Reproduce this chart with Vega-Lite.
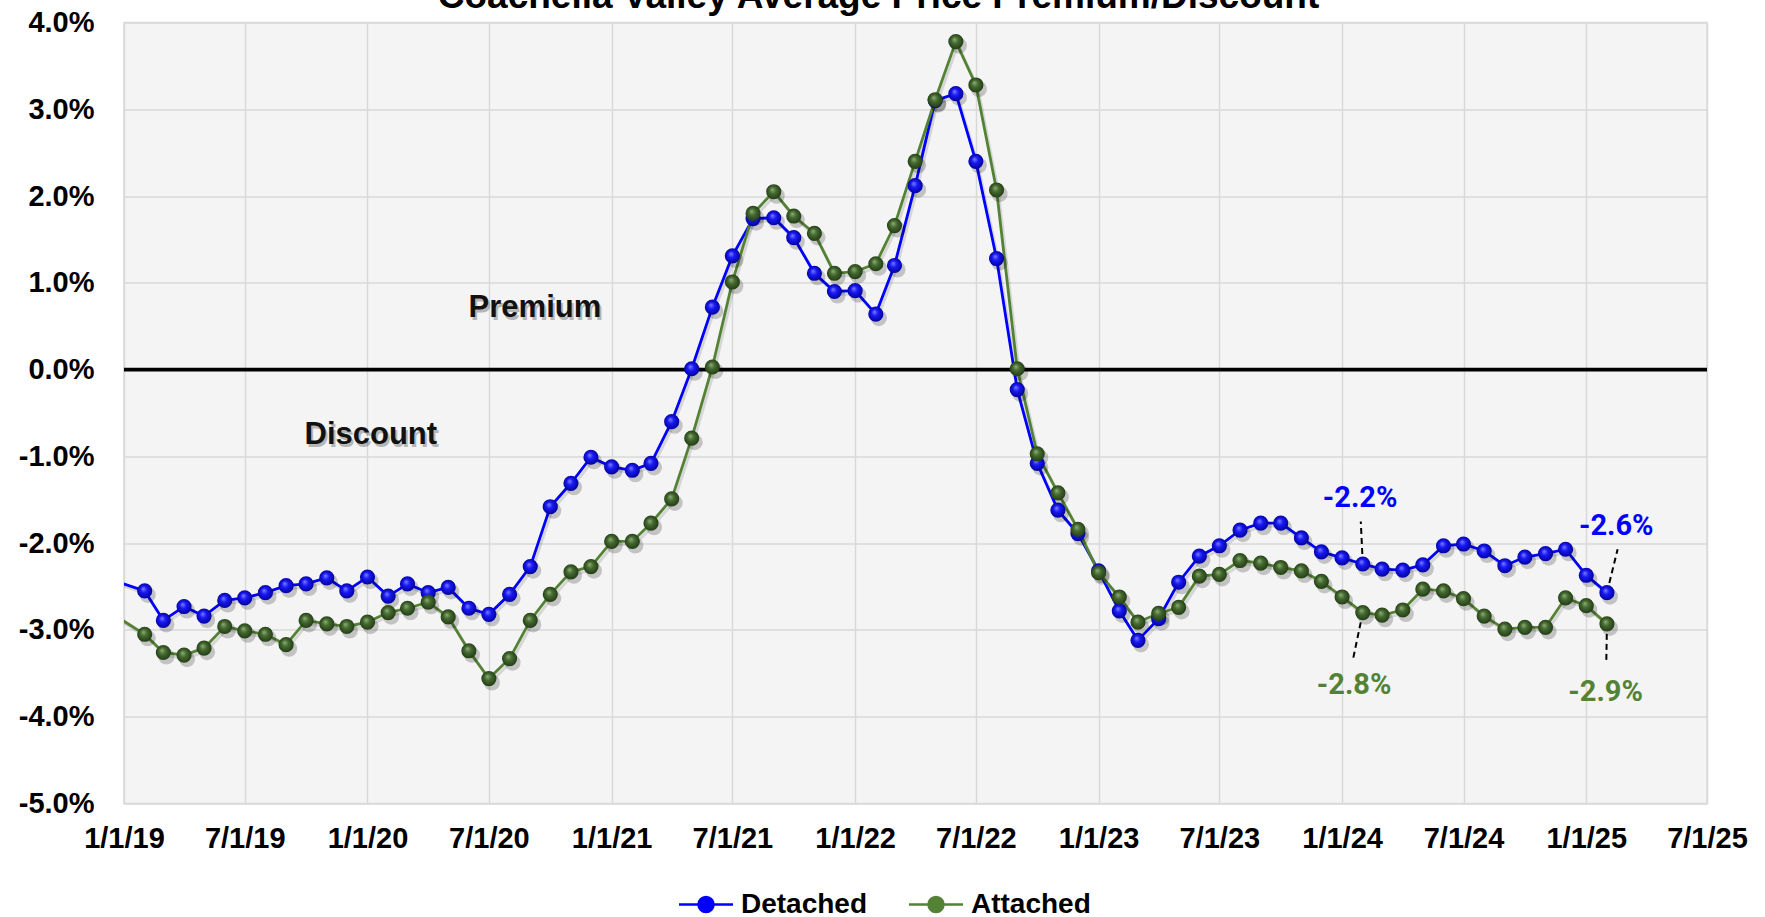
{
  "$schema": "https://vega.github.io/schema/vega-lite/v6.json",
  "width": 1583,
  "height": 781,
  "autosize": {"type": "none"},
  "padding": {"left": 124, "top": 22.5, "right": 58, "bottom": 113.5},
  "background": "#ffffff",
  "title": {
    "text": "Coachella Valley Average Price Premium/Discount",
    "anchor": "middle",
    "frame": "group",
    "dx": -37,
    "offset": -36,
    "baseline": "alphabetic",
    "font": "Liberation Sans",
    "fontSize": 37,
    "fontWeight": "bold",
    "color": "#000000"
  },
  "config": {
    "view": {"fill": "#f4f4f4", "stroke": "#d9d9d9", "strokeWidth": 1.5},
    "axis": {
      "gridColor": "#d9d9d9",
      "gridWidth": 1.5,
      "domain": false,
      "ticks": false,
      "tickSize": 0,
      "labelFont": "Liberation Sans",
      "labelFontWeight": "bold",
      "labelFontSize": 29,
      "labelColor": "#000000",
      "labelFlush": false,
      "labelOverlap": false,
      "title": null
    },
    "legend": {
      "orient": "none",
      "legendX": 567,
      "legendY": 867,
      "direction": "horizontal",
      "title": null,
      "symbolType": "M-2,0L2,0M0.556,0A0.556,0.556,0,1,1,-0.556,0A0.556,0.556,0,1,1,0.556,0Z",
      "symbolSize": 729,
      "symbolStrokeWidth": 2.5,
      "labelFont": "Liberation Sans",
      "labelFontWeight": "bold",
      "labelFontSize": 28,
      "labelColor": "#000000",
      "labelOffset": 20,
      "columnPadding": 36
    }
  },
  "datasets": {
    "series": [
      {"d": "2018-12-01", "s": "Detached", "v": -2.39},
      {"d": "2019-02-01", "s": "Detached", "v": -2.55},
      {"d": "2019-03-01", "s": "Detached", "v": -2.89},
      {"d": "2019-04-01", "s": "Detached", "v": -2.73},
      {"d": "2019-05-01", "s": "Detached", "v": -2.84},
      {"d": "2019-06-01", "s": "Detached", "v": -2.66},
      {"d": "2019-07-01", "s": "Detached", "v": -2.63},
      {"d": "2019-08-01", "s": "Detached", "v": -2.57},
      {"d": "2019-09-01", "s": "Detached", "v": -2.49},
      {"d": "2019-10-01", "s": "Detached", "v": -2.47},
      {"d": "2019-11-01", "s": "Detached", "v": -2.40},
      {"d": "2019-12-01", "s": "Detached", "v": -2.55},
      {"d": "2020-01-01", "s": "Detached", "v": -2.39},
      {"d": "2020-02-01", "s": "Detached", "v": -2.61},
      {"d": "2020-03-01", "s": "Detached", "v": -2.47},
      {"d": "2020-04-01", "s": "Detached", "v": -2.57},
      {"d": "2020-05-01", "s": "Detached", "v": -2.51},
      {"d": "2020-06-01", "s": "Detached", "v": -2.75},
      {"d": "2020-07-01", "s": "Detached", "v": -2.82},
      {"d": "2020-08-01", "s": "Detached", "v": -2.59},
      {"d": "2020-09-01", "s": "Detached", "v": -2.27},
      {"d": "2020-10-01", "s": "Detached", "v": -1.58},
      {"d": "2020-11-01", "s": "Detached", "v": -1.31},
      {"d": "2020-12-01", "s": "Detached", "v": -1.01},
      {"d": "2021-01-01", "s": "Detached", "v": -1.12},
      {"d": "2021-02-01", "s": "Detached", "v": -1.16},
      {"d": "2021-03-01", "s": "Detached", "v": -1.08},
      {"d": "2021-04-01", "s": "Detached", "v": -0.60},
      {"d": "2021-05-01", "s": "Detached", "v": 0.01},
      {"d": "2021-06-01", "s": "Detached", "v": 0.72},
      {"d": "2021-07-01", "s": "Detached", "v": 1.31},
      {"d": "2021-08-01", "s": "Detached", "v": 1.74},
      {"d": "2021-09-01", "s": "Detached", "v": 1.75},
      {"d": "2021-10-01", "s": "Detached", "v": 1.52},
      {"d": "2021-11-01", "s": "Detached", "v": 1.11},
      {"d": "2021-12-01", "s": "Detached", "v": 0.90},
      {"d": "2022-01-01", "s": "Detached", "v": 0.91},
      {"d": "2022-02-01", "s": "Detached", "v": 0.64},
      {"d": "2022-03-01", "s": "Detached", "v": 1.20},
      {"d": "2022-04-01", "s": "Detached", "v": 2.12},
      {"d": "2022-05-01", "s": "Detached", "v": 3.10},
      {"d": "2022-06-01", "s": "Detached", "v": 3.18},
      {"d": "2022-07-01", "s": "Detached", "v": 2.40},
      {"d": "2022-08-01", "s": "Detached", "v": 1.28},
      {"d": "2022-09-01", "s": "Detached", "v": -0.23},
      {"d": "2022-10-01", "s": "Detached", "v": -1.08},
      {"d": "2022-11-01", "s": "Detached", "v": -1.62},
      {"d": "2022-12-01", "s": "Detached", "v": -1.89},
      {"d": "2023-01-01", "s": "Detached", "v": -2.32},
      {"d": "2023-02-01", "s": "Detached", "v": -2.78},
      {"d": "2023-03-01", "s": "Detached", "v": -3.12},
      {"d": "2023-04-01", "s": "Detached", "v": -2.87},
      {"d": "2023-05-01", "s": "Detached", "v": -2.45},
      {"d": "2023-06-01", "s": "Detached", "v": -2.15},
      {"d": "2023-07-01", "s": "Detached", "v": -2.03},
      {"d": "2023-08-01", "s": "Detached", "v": -1.85},
      {"d": "2023-09-01", "s": "Detached", "v": -1.77},
      {"d": "2023-10-01", "s": "Detached", "v": -1.77},
      {"d": "2023-11-01", "s": "Detached", "v": -1.94},
      {"d": "2023-12-01", "s": "Detached", "v": -2.10},
      {"d": "2024-01-01", "s": "Detached", "v": -2.17},
      {"d": "2024-02-01", "s": "Detached", "v": -2.24},
      {"d": "2024-03-01", "s": "Detached", "v": -2.30},
      {"d": "2024-04-01", "s": "Detached", "v": -2.31},
      {"d": "2024-05-01", "s": "Detached", "v": -2.25},
      {"d": "2024-06-01", "s": "Detached", "v": -2.03},
      {"d": "2024-07-01", "s": "Detached", "v": -2.01},
      {"d": "2024-08-01", "s": "Detached", "v": -2.09},
      {"d": "2024-09-01", "s": "Detached", "v": -2.26},
      {"d": "2024-10-01", "s": "Detached", "v": -2.16},
      {"d": "2024-11-01", "s": "Detached", "v": -2.12},
      {"d": "2024-12-01", "s": "Detached", "v": -2.07},
      {"d": "2025-01-01", "s": "Detached", "v": -2.37},
      {"d": "2025-02-01", "s": "Detached", "v": -2.57},
      {"d": "2018-12-01", "s": "Attached", "v": -2.75},
      {"d": "2019-02-01", "s": "Attached", "v": -3.05},
      {"d": "2019-03-01", "s": "Attached", "v": -3.26},
      {"d": "2019-04-01", "s": "Attached", "v": -3.29},
      {"d": "2019-05-01", "s": "Attached", "v": -3.21},
      {"d": "2019-06-01", "s": "Attached", "v": -2.96},
      {"d": "2019-07-01", "s": "Attached", "v": -3.01},
      {"d": "2019-08-01", "s": "Attached", "v": -3.05},
      {"d": "2019-09-01", "s": "Attached", "v": -3.17},
      {"d": "2019-10-01", "s": "Attached", "v": -2.89},
      {"d": "2019-11-01", "s": "Attached", "v": -2.93},
      {"d": "2019-12-01", "s": "Attached", "v": -2.96},
      {"d": "2020-01-01", "s": "Attached", "v": -2.91},
      {"d": "2020-02-01", "s": "Attached", "v": -2.80},
      {"d": "2020-03-01", "s": "Attached", "v": -2.75},
      {"d": "2020-04-01", "s": "Attached", "v": -2.68},
      {"d": "2020-05-01", "s": "Attached", "v": -2.85},
      {"d": "2020-06-01", "s": "Attached", "v": -3.24},
      {"d": "2020-07-01", "s": "Attached", "v": -3.56},
      {"d": "2020-08-01", "s": "Attached", "v": -3.33},
      {"d": "2020-09-01", "s": "Attached", "v": -2.89},
      {"d": "2020-10-01", "s": "Attached", "v": -2.59},
      {"d": "2020-11-01", "s": "Attached", "v": -2.33},
      {"d": "2020-12-01", "s": "Attached", "v": -2.27},
      {"d": "2021-01-01", "s": "Attached", "v": -1.98},
      {"d": "2021-02-01", "s": "Attached", "v": -1.98},
      {"d": "2021-03-01", "s": "Attached", "v": -1.77},
      {"d": "2021-04-01", "s": "Attached", "v": -1.49},
      {"d": "2021-05-01", "s": "Attached", "v": -0.79},
      {"d": "2021-06-01", "s": "Attached", "v": 0.03},
      {"d": "2021-07-01", "s": "Attached", "v": 1.01},
      {"d": "2021-08-01", "s": "Attached", "v": 1.80},
      {"d": "2021-09-01", "s": "Attached", "v": 2.05},
      {"d": "2021-10-01", "s": "Attached", "v": 1.77},
      {"d": "2021-11-01", "s": "Attached", "v": 1.57},
      {"d": "2021-12-01", "s": "Attached", "v": 1.11},
      {"d": "2022-01-01", "s": "Attached", "v": 1.13},
      {"d": "2022-02-01", "s": "Attached", "v": 1.22},
      {"d": "2022-03-01", "s": "Attached", "v": 1.66},
      {"d": "2022-04-01", "s": "Attached", "v": 2.40},
      {"d": "2022-05-01", "s": "Attached", "v": 3.11},
      {"d": "2022-06-01", "s": "Attached", "v": 3.78},
      {"d": "2022-07-01", "s": "Attached", "v": 3.28},
      {"d": "2022-08-01", "s": "Attached", "v": 2.07},
      {"d": "2022-09-01", "s": "Attached", "v": 0.01},
      {"d": "2022-10-01", "s": "Attached", "v": -0.97},
      {"d": "2022-11-01", "s": "Attached", "v": -1.42},
      {"d": "2022-12-01", "s": "Attached", "v": -1.84},
      {"d": "2023-01-01", "s": "Attached", "v": -2.34},
      {"d": "2023-02-01", "s": "Attached", "v": -2.62},
      {"d": "2023-03-01", "s": "Attached", "v": -2.91},
      {"d": "2023-04-01", "s": "Attached", "v": -2.81},
      {"d": "2023-05-01", "s": "Attached", "v": -2.74},
      {"d": "2023-06-01", "s": "Attached", "v": -2.38},
      {"d": "2023-07-01", "s": "Attached", "v": -2.36},
      {"d": "2023-08-01", "s": "Attached", "v": -2.20},
      {"d": "2023-09-01", "s": "Attached", "v": -2.23},
      {"d": "2023-10-01", "s": "Attached", "v": -2.28},
      {"d": "2023-11-01", "s": "Attached", "v": -2.32},
      {"d": "2023-12-01", "s": "Attached", "v": -2.44},
      {"d": "2024-01-01", "s": "Attached", "v": -2.62},
      {"d": "2024-02-01", "s": "Attached", "v": -2.80},
      {"d": "2024-03-01", "s": "Attached", "v": -2.83},
      {"d": "2024-04-01", "s": "Attached", "v": -2.77},
      {"d": "2024-05-01", "s": "Attached", "v": -2.53},
      {"d": "2024-06-01", "s": "Attached", "v": -2.55},
      {"d": "2024-07-01", "s": "Attached", "v": -2.64},
      {"d": "2024-08-01", "s": "Attached", "v": -2.84},
      {"d": "2024-09-01", "s": "Attached", "v": -2.99},
      {"d": "2024-10-01", "s": "Attached", "v": -2.97},
      {"d": "2024-11-01", "s": "Attached", "v": -2.97},
      {"d": "2024-12-01", "s": "Attached", "v": -2.63},
      {"d": "2025-01-01", "s": "Attached", "v": -2.72},
      {"d": "2025-02-01", "s": "Attached", "v": -2.93}
    ],
    "labels": [
      {"d": "2024-01-28", "v": -1.48, "t": "-2.2%", "s": "Detached"},
      {"d": "2025-02-15", "v": -1.80, "t": "-2.6%", "s": "Detached"},
      {"d": "2024-01-19", "v": -3.64, "t": "-2.8%", "s": "Attached"},
      {"d": "2025-01-30", "v": -3.72, "t": "-2.9%", "s": "Attached"}
    ],
    "leaders": [
      {"d": "2024-02-01", "d2": "2024-01-29", "v": -2.24, "v2": -1.75},
      {"d": "2024-02-01", "d2": "2024-01-17", "v": -2.80, "v2": -3.35},
      {"d": "2025-02-01", "d2": "2025-02-17", "v": -2.57, "v2": -2.07},
      {"d": "2025-02-01", "d2": "2025-01-31", "v": -2.93, "v2": -3.39}
    ],
    "notes": [
      {"d": "2020-09-08", "v": 0.71, "t": "Premium"},
      {"d": "2020-01-06", "v": -0.755, "t": "Discount"}
    ]
  },
  "layer": [
    {
      "data": {"values": [{"v": 0}]},
      "mark": {"type": "rule", "color": "#000000", "strokeWidth": 3.8},
      "encoding": {
        "y": {
          "field": "v",
          "type": "quantitative",
          "scale": {"domain": [-5, 4], "nice": false, "zero": false},
          "axis": {
            "values": [-5, -4, -3, -2, -1, 0, 1, 2, 3, 4],
            "labelPadding": 30,
            "labelExpr": "(datum.value < 0 ? '-' : '') + format(abs(datum.value), '.1f') + '%'"
          }
        }
      }
    },
    {
      "data": {"name": "leaders"},
      "mark": {"type": "rule", "color": "#000000", "strokeWidth": 2, "strokeDash": [6, 4]},
      "encoding": {
        "x": {
          "field": "d",
          "type": "temporal",
          "scale": {
            "type": "utc",
            "domain": [{"year": 2019, "month": 1, "date": 1, "utc": true}, {"year": 2025, "month": 7, "date": 1, "utc": true}]
          },
          "axis": {
            "values": [
              {"year": 2019, "month": 1, "date": 1, "utc": true},
              {"year": 2019, "month": 7, "date": 1, "utc": true},
              {"year": 2020, "month": 1, "date": 1, "utc": true},
              {"year": 2020, "month": 7, "date": 1, "utc": true},
              {"year": 2021, "month": 1, "date": 1, "utc": true},
              {"year": 2021, "month": 7, "date": 1, "utc": true},
              {"year": 2022, "month": 1, "date": 1, "utc": true},
              {"year": 2022, "month": 7, "date": 1, "utc": true},
              {"year": 2023, "month": 1, "date": 1, "utc": true},
              {"year": 2023, "month": 7, "date": 1, "utc": true},
              {"year": 2024, "month": 1, "date": 1, "utc": true},
              {"year": 2024, "month": 7, "date": 1, "utc": true},
              {"year": 2025, "month": 1, "date": 1, "utc": true},
              {"year": 2025, "month": 7, "date": 1, "utc": true}
            ],
            "labelPadding": 21,
            "labelExpr": "utcFormat(datum.value, '%-m/%-d/%y')"
          }
        },
        "x2": {"field": "d2"},
        "y": {"field": "v", "type": "quantitative"},
        "y2": {"field": "v2"}
      }
    },
    {
      "data": {"name": "series"},
      "mark": {"type": "line", "clip": true, "color": "#000000", "opacity": 0.12, "strokeWidth": 3, "xOffset": 2, "yOffset": 3},
      "encoding": {
        "x": {"field": "d", "type": "temporal"},
        "y": {"field": "v", "type": "quantitative"},
        "detail": {"field": "s"}
      }
    },
    {
      "data": {"name": "series"},
      "mark": {"type": "line", "clip": true, "strokeWidth": 2.8},
      "encoding": {
        "x": {"field": "d", "type": "temporal"},
        "y": {"field": "v", "type": "quantitative"},
        "color": {
          "field": "s",
          "type": "nominal",
          "scale": {"domain": ["Detached", "Attached"], "range": ["#0000ff", "#548235"]},
          "legend": {
            "encode": {
              "symbols": {
                "update": {
                  "fill": {"scale": "color", "field": "value"},
                  "stroke": {"scale": "color", "field": "value"}
                }
              }
            }
          }
        }
      }
    },
    {
      "data": {"name": "series"},
      "mark": {"type": "point", "shape": "circle", "filled": true, "clip": true, "size": 260, "color": "#000000", "opacity": 0.2, "xOffset": 3, "yOffset": 4},
      "encoding": {
        "x": {"field": "d", "type": "temporal"},
        "y": {"field": "v", "type": "quantitative"}
      }
    },
    {
      "data": {"name": "series"},
      "transform": [{"filter": "datum.s === 'Detached'"}],
      "mark": {
        "type": "point",
        "shape": "circle",
        "filled": true,
        "clip": true,
        "size": 230,
        "opacity": 1,
        "strokeWidth": 0,
        "fill": {
          "gradient": "radial",
          "x1": 0.4, "y1": 0.35, "r1": 0,
          "x2": 0.5, "y2": 0.5, "r2": 0.55,
          "stops": [
            {"offset": 0, "color": "#8080ff"},
            {"offset": 0.4, "color": "#1818f5"},
            {"offset": 1, "color": "#000090"}
          ]
        }
      },
      "encoding": {
        "x": {"field": "d", "type": "temporal"},
        "y": {"field": "v", "type": "quantitative"}
      }
    },
    {
      "data": {"name": "series"},
      "transform": [{"filter": "datum.s === 'Attached'"}],
      "mark": {
        "type": "point",
        "shape": "circle",
        "filled": true,
        "clip": true,
        "size": 230,
        "opacity": 1,
        "strokeWidth": 0,
        "fill": {
          "gradient": "radial",
          "x1": 0.4, "y1": 0.35, "r1": 0,
          "x2": 0.5, "y2": 0.5, "r2": 0.55,
          "stops": [
            {"offset": 0, "color": "#8fb079"},
            {"offset": 0.4, "color": "#456a30"},
            {"offset": 1, "color": "#1f3713"}
          ]
        }
      },
      "encoding": {
        "x": {"field": "d", "type": "temporal"},
        "y": {"field": "v", "type": "quantitative"}
      }
    },
    {
      "data": {"name": "labels"},
      "transform": [{"filter": "datum.s === 'Detached'"}],
      "mark": {"type": "text", "font": "Roboto", "fontWeight": "bold", "fontSize": 29, "color": "#0000ff", "align": "center", "baseline": "middle"},
      "encoding": {
        "x": {"field": "d", "type": "temporal"},
        "y": {"field": "v", "type": "quantitative"},
        "text": {"field": "t"}
      }
    },
    {
      "data": {"name": "labels"},
      "transform": [{"filter": "datum.s === 'Attached'"}],
      "mark": {"type": "text", "font": "Roboto", "fontWeight": "bold", "fontSize": 29, "color": "#548235", "align": "center", "baseline": "middle"},
      "encoding": {
        "x": {"field": "d", "type": "temporal"},
        "y": {"field": "v", "type": "quantitative"},
        "text": {"field": "t"}
      }
    },
    {
      "data": {"name": "notes"},
      "mark": {"type": "text", "font": "Liberation Sans", "fontWeight": "bold", "fontSize": 31, "color": "#000000", "opacity": 0.25, "align": "center", "baseline": "middle", "dx": 2, "dy": 3},
      "encoding": {
        "x": {"field": "d", "type": "temporal"},
        "y": {"field": "v", "type": "quantitative"},
        "text": {"field": "t"}
      }
    },
    {
      "data": {"name": "notes"},
      "mark": {"type": "text", "font": "Liberation Sans", "fontWeight": "bold", "fontSize": 31, "color": "#111111", "align": "center", "baseline": "middle"},
      "encoding": {
        "x": {"field": "d", "type": "temporal"},
        "y": {"field": "v", "type": "quantitative"},
        "text": {"field": "t"}
      }
    }
  ]
}
